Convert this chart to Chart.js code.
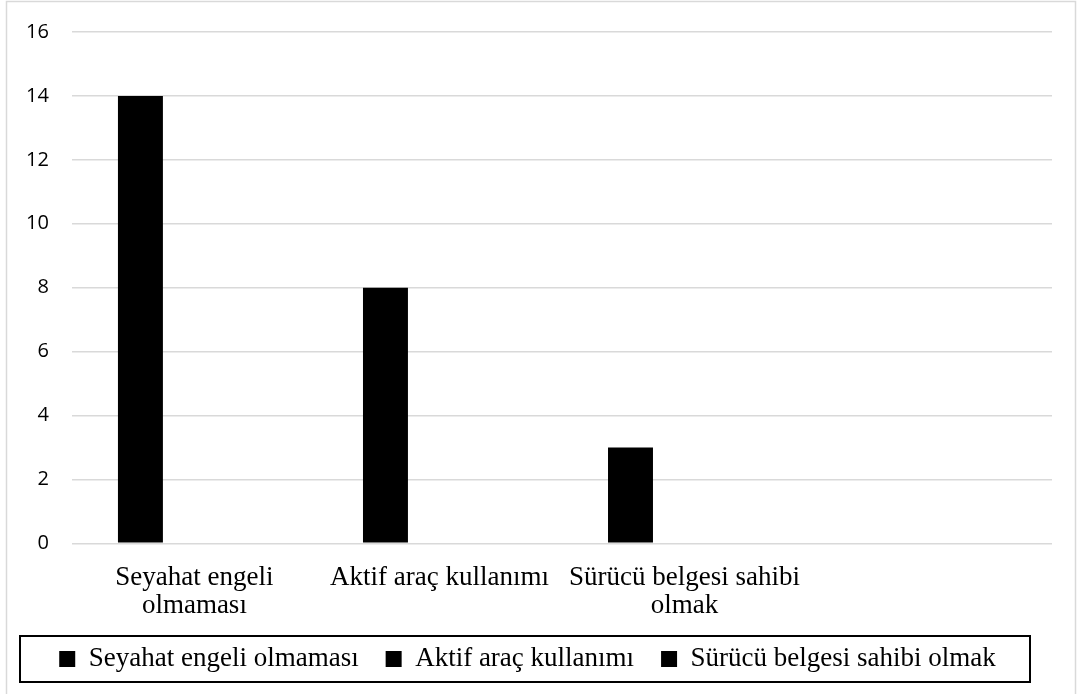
<!DOCTYPE html>
<html lang="tr">
<head>
<meta charset="utf-8">
<title>Seyahat ve araç kullanımı</title>
<script src="https://cdn.jsdelivr.net/npm/chart.js@4/dist/chart.umd.min.js"></script>
<style>
  html, body { margin: 0; padding: 0; background: #ffffff; }
  #wrap { position: relative; width: 1081px; height: 694px; }
</style>
</head>
<body>
<div id="wrap"><canvas id="chart" width="1081" height="694"></canvas></div>
<script>
// Category names (legend entries) and the wrapped axis labels
const categories = ['Seyahat engeli olmaması', 'Aktif araç kullanımı', 'Sürücü belgesi sahibi olmak', ''];
const axisLabels = [['Seyahat engeli', 'olmaması'], ['Aktif araç kullanımı'], ['Sürücü belgesi sahibi', 'olmak'], ''];
// Counts per category
const values = [14, 8, 3, null];
// Value axis range
const yMin = 0;
const yMax = 16;
const yStep = 2;

const serif = '"Liberation Serif", "Times New Roman", serif';
const sans = '"Open Sans", "Noto Sans", sans-serif';

// Outer chart frame and the boxed legend
const framePlugin = {
  id: 'frames',
  afterDraw(chart, args, opts) {
    const ctx = chart.ctx;
    ctx.save();
    ctx.strokeStyle = '#d9d9d9';
    ctx.lineWidth = 1.5;
    ctx.strokeRect(6.5, 1.5, chart.width - 12, chart.height + 10);
    const b = opts.legendBox;
    ctx.strokeStyle = '#000000';
    ctx.lineWidth = 2;
    ctx.strokeRect(b.left, b.top, b.right - b.left, b.bottom - b.top);
    ctx.restore();
  }
};

new Chart(document.getElementById('chart'), {
  type: 'bar',
  data: {
    labels: axisLabels,
    datasets: [
      { label: 'Sayı', data: values, backgroundColor: '#000000', borderWidth: 0 },
      { label: '', data: values.map(() => null), backgroundColor: '#000000' },
      { label: '', data: values.map(() => null), backgroundColor: '#000000' }
    ]
  },
  options: {
    responsive: false,
    animation: false,
    datasets: { bar: { categoryPercentage: 0.6606, barPercentage: 0.8333 } },
    layout: { padding: { left: 3, right: 29, top: 20, bottom: 11.5 } },
    plugins: {
      tooltip: { enabled: false },
      frames: { legendBox: { left: 20, top: 636, right: 1030, bottom: 682 } },
      legend: {
        position: 'bottom',
        labels: {
          boxWidth: 16,
          boxHeight: 16,
          padding: 27,
          color: '#000000',
          font: { family: serif, size: 27 },
          generateLabels: () => categories.filter(c => c).map((c, i) => ({
            text: c,
            fillStyle: '#000000',
            strokeStyle: '#000000',
            lineWidth: 0,
            hidden: false,
            datasetIndex: 0,
            index: i
          }))
        }
      }
    },
    scales: {
      x: {
        grid: { display: false, drawTicks: false },
        border: { display: false },
        // keep only one tick padding below the labels
        afterFit: scale => { scale.height -= 22; },
        ticks: {
          color: '#000000',
          font: { family: serif, size: 27, lineHeight: 1.04 },
          padding: 20.5,
          maxRotation: 0,
          minRotation: 0,
          autoSkip: false
        }
      },
      y: {
        min: yMin,
        max: yMax,
        grid: { color: '#d9d9d9', lineWidth: 1.5, drawTicks: false },
        border: { display: false },
        // the side padding of the labels should not push the plot down
        afterFit: scale => { scale.paddingTop -= 3; },
        ticks: {
          stepSize: yStep,
          color: '#000000',
          font: { family: sans, size: 20 },
          padding: 23
        }
      }
    }
  },
  plugins: [framePlugin]
});
</script>
</body>
</html>
